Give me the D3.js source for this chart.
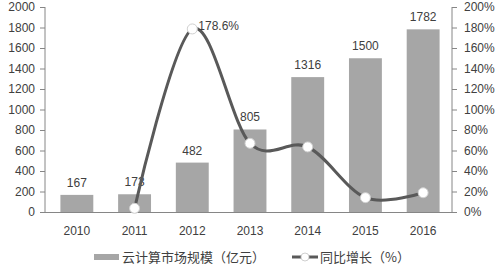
<!DOCTYPE html>
<html>
<head>
<meta charset="utf-8">
<script src="https://cdn.jsdelivr.net/npm/d3@7"></script>
<style>
  body { margin: 0; background: #fff; }
  text { font-family: "Liberation Sans", Arial, sans-serif; fill: #404040; }
</style>
</head>
<body>
<svg id="chart" width="504" height="266"></svg>
<script>
var years = ["2010", "2011", "2012", "2013", "2014", "2015", "2016"];
var market = [167, 173, 482, 805, 1316, 1500, 1782];
var growth = [null, 3.6, 178.6, 67.0, 63.5, 14.0, 18.8];
var leftTicks = [0, 200, 400, 600, 800, 1000, 1200, 1400, 1600, 1800, 2000];
var rightTicks = [0, 20, 40, 60, 80, 100, 120, 140, 160, 180, 200];

// plot edges (window.top is reserved, so use other names)
var plotL = 45, plotR = 452, plotT = 7, plotB = 212;
var svg = d3.select("#chart");

var x = d3.scaleBand().domain(years).range([plotL + 3, plotR]).paddingInner(0.43).paddingOuter(0.215);
var y = d3.scaleLinear().domain([0, 2000]).range([plotB, plotT]);
var y2 = d3.scaleLinear().domain([0, 200]).range([plotB, plotT]);

// bars
svg.selectAll("rect.bar").data(market).enter()
  .append("rect")
  .attr("class", "bar")
  .attr("x", function(d, i){ return x(years[i]); })
  .attr("y", function(d){ return y(d); })
  .attr("width", x.bandwidth())
  .attr("height", function(d){ return plotB - y(d); })
  .attr("fill", "#a6a6a6");

svg.selectAll("text.blab").data(market).enter()
  .append("text")
  .attr("class", "blab")
  .attr("x", function(d, i){ return x(years[i]) + x.bandwidth() / 2; })
  .attr("y", function(d){ return y(d) - 8; })
  .attr("text-anchor", "middle")
  .attr("font-size", 12)
  .text(function(d){ return d; });

// axes
var axisColor = "#868686";
var gl = svg.append("g").attr("transform", "translate(" + plotL + ",0)")
  .call(d3.axisLeft(y).tickValues(leftTicks).tickSize(5).tickPadding(5).tickFormat(d3.format("d")));
var gr = svg.append("g").attr("transform", "translate(" + plotR + ",0)")
  .call(d3.axisRight(y2).tickValues(rightTicks).tickSize(5).tickPadding(7).tickFormat(function(d){ return d + "%"; }));
[gl, gr].forEach(function(g){
  g.select(".domain").attr("stroke", axisColor).attr("d", "M0," + plotT + "V" + plotB);
  g.selectAll(".tick line").attr("stroke", axisColor);
  g.selectAll(".tick text").attr("font-size", 12).attr("fill", "#404040")
    .style("font-family", "'Liberation Sans', Arial, sans-serif");
});

svg.append("line")
  .attr("x1", plotL).attr("x2", plotR)
  .attr("y1", plotB + 0.5).attr("y2", plotB + 0.5)
  .attr("stroke", axisColor);

svg.selectAll("text.year").data(years).enter()
  .append("text")
  .attr("class", "year")
  .attr("x", function(d){ return x(d) + x.bandwidth() / 2; })
  .attr("y", plotB + 23)
  .attr("text-anchor", "middle")
  .attr("font-size", 12)
  .text(function(d){ return d; });

// growth line
var pts = [];
growth.forEach(function(g, i){ if (g !== null) pts.push({ yr: years[i], v: g }); });

var line = d3.line()
  .x(function(d){ return x(d.yr) + x.bandwidth() / 2; })
  .y(function(d){ return y2(d.v); })
  .curve(d3.curveCardinal.tension(0));

svg.append("path")
  .attr("d", line(pts))
  .attr("fill", "none")
  .attr("stroke", "#595959")
  .attr("stroke-width", 3);

svg.selectAll("circle.pt").data(pts).enter()
  .append("circle")
  .attr("class", "pt")
  .attr("cx", function(d){ return x(d.yr) + x.bandwidth() / 2; })
  .attr("cy", function(d){ return y2(d.v); })
  .attr("r", 5)
  .attr("fill", "#fff")
  .attr("stroke", "#d0d0d0")
  .attr("stroke-width", 1);

var peak = pts[1];
svg.append("text")
  .attr("x", x(peak.yr) + x.bandwidth() / 2 + 6)
  .attr("y", y2(peak.v) + 1)
  .attr("font-size", 12)
  .text(peak.v.toFixed(1) + "%");

// legend
var lg = svg.append("g").attr("transform", "translate(0,257)");
lg.append("rect").attr("x", 94).attr("y", -3).attr("width", 25).attr("height", 6).attr("fill", "#a6a6a6");
lg.append("text").attr("x", 122).attr("y", 5).attr("font-size", 13)
  .style("font-family", "'Noto Sans CJK SC', sans-serif").text("云计算市场规模（亿元）");
lg.append("line").attr("x1", 292).attr("x2", 318).attr("y1", 0).attr("y2", 0)
  .attr("stroke", "#595959").attr("stroke-width", 3);
lg.append("circle").attr("cx", 305).attr("cy", 0).attr("r", 4)
  .attr("fill", "#fff").attr("stroke", "#d0d0d0");
lg.append("text").attr("x", 320).attr("y", 5).attr("font-size", 13)
  .style("font-family", "'Noto Sans CJK SC', sans-serif").text("同比增长（%）");
</script>
</body>
</html>
